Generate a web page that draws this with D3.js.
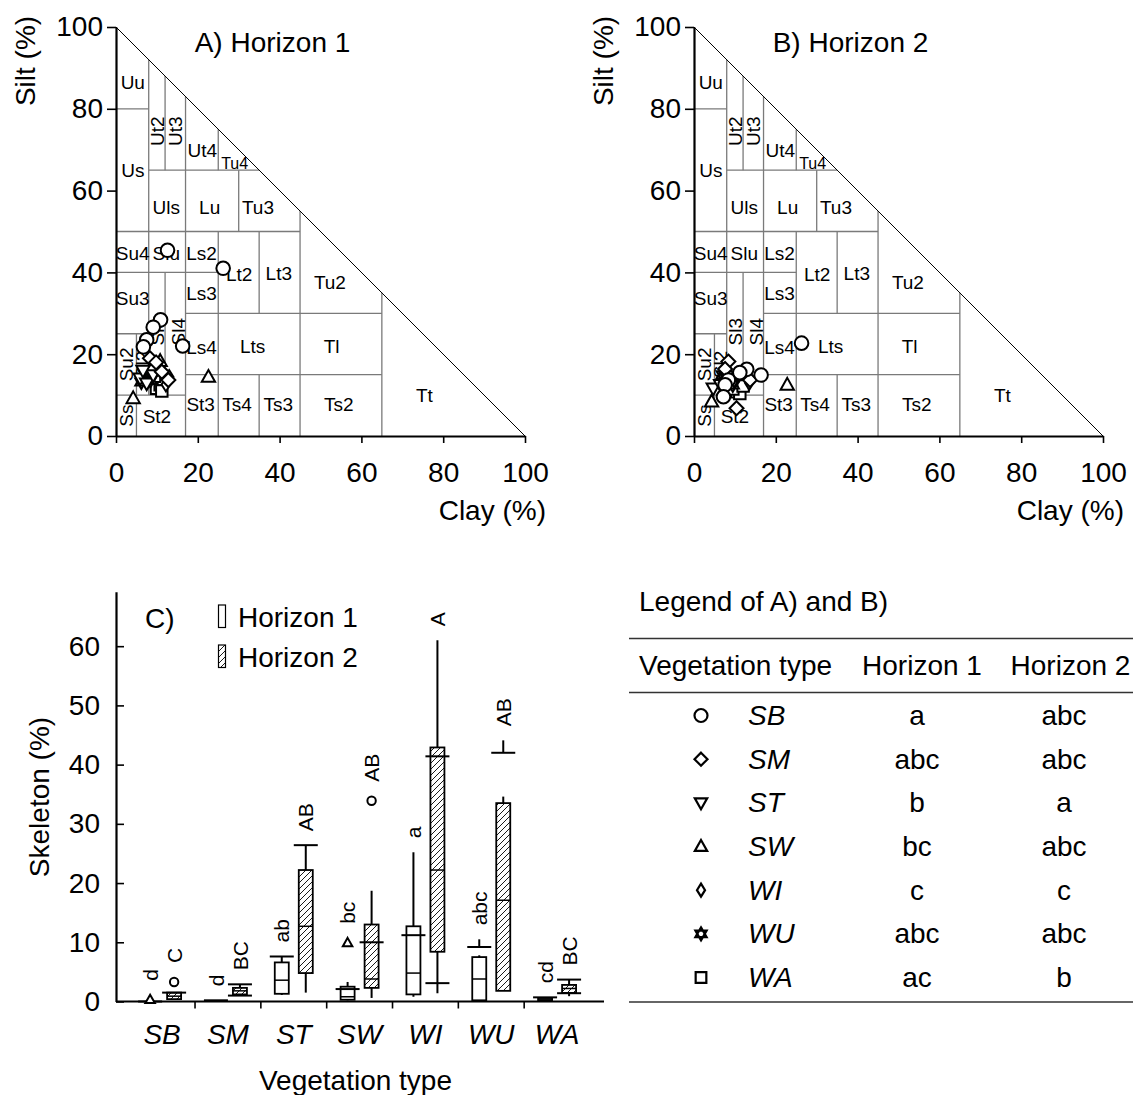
<!DOCTYPE html>
<html>
<head>
<meta charset="utf-8">
<script src="https://cdn.jsdelivr.net/npm/d3@7"></script>
<style>
body { margin: 0; background: #fff; }
text { font-family: "Liberation Sans", Arial, sans-serif; fill: #000; }
</style>
</head>
<body>
<script>
// ---- data ----
var categories = ["SB", "SM", "ST", "SW", "WI", "WU", "WA"];
var symbolTypes = ["circle", "diamond", "triangleDown", "triangleUp", "narrowDiamond", "hexagram", "square"];
var groupsH1 = ["a", "abc", "b", "bc", "c", "abc", "ac"];
var groupsH2 = ["abc", "abc", "a", "abc", "c", "abc", "b"];

// soil texture points [type, clay %, silt %]
var pointsH1 = [
  ["WA", 9.9, 11.7], ["WA", 10.8, 12.5], ["WA", 11.6, 13.8], ["WA", 9.4, 14.6], ["WA", 11.2, 11.0],
  ["WU", 7.0, 15.2], ["WU", 8.4, 13.6], ["WU", 9.6, 16.2], ["WU", 6.2, 13.2],
  ["WI", 13.0, 14.4], ["WI", 10.2, 16.6], ["WI", 12.2, 12.6],
  ["SW", 22.6, 14.4], ["SW", 4.2, 9.2], ["SW", 10.8, 18.3], ["SW", 9.0, 17.0],
  ["ST", 5.9, 14.1], ["ST", 7.5, 12.9], ["ST", 9.1, 14.9], ["ST", 6.6, 16.0],
  ["SM", 12.8, 13.7], ["SM", 8.3, 19.0], ["SM", 11.2, 15.7], ["SM", 9.8, 18.0],
  ["SB", 12.6, 45.4], ["SB", 26.2, 41.0], ["SB", 10.9, 28.4], ["SB", 9.1, 26.6],
  ["SB", 7.5, 23.5], ["SB", 6.7, 21.8], ["SB", 16.3, 22.0]
];
var pointsH2 = [
  ["WA", 10.5, 10.8], ["WA", 11.2, 10.4], ["WA", 9.5, 11.5], ["WA", 12.0, 12.2],
  ["WU", 8.0, 14.2], ["WU", 9.5, 12.5], ["WU", 7.0, 15.0],
  ["WI", 13.5, 13.0], ["WI", 11.0, 15.0], ["WI", 9.8, 13.6],
  ["SW", 22.8, 12.5], ["SW", 4.3, 8.4], ["SW", 9.0, 14.5],
  ["ST", 4.7, 11.7], ["ST", 6.5, 12.5], ["ST", 8.2, 14.0],
  ["SM", 8.4, 18.2], ["SM", 10.4, 6.8], ["SM", 13.7, 13.7], ["SM", 7.6, 16.4],
  ["SB", 26.3, 22.7], ["SB", 16.4, 14.9], ["SB", 12.9, 16.3], ["SB", 11.2, 15.5],
  ["SB", 8.4, 13.7], ["SB", 7.6, 12.5], ["SB", 7.2, 9.6]
];

// texture class boundaries: horizontal [silt, clayFrom, clayTo], vertical [clay, siltFrom, siltTo]
var hBounds = [[80, 0, 8], [65, 8, 35], [50, 0, 45], [40, 0, 25], [30, 17, 65], [25, 0, 8], [15, 17, 65], [10, 0, 17]];
var vBounds = [[5, 0, 25], [8, 10, 92], [12, 10, 40], [12, 65, 88], [17, 0, 83], [25, 0, 50], [25, 65, 75],
               [30, 50, 65], [35, 0, 15], [35, 30, 50], [45, 0, 55], [65, 0, 35]];
// [label, clay, silt, rotated, small]
var classLabels = [
  ["Uu", 4.1, 86.5], ["Us", 4.1, 65.1], ["Ut2", 10, 74.5, 1], ["Ut3", 14.4, 74.5, 1], ["Ut4", 21.1, 70],
  ["Tu4", 29, 66.8, 0, 1], ["Uls", 12.3, 56], ["Lu", 22.9, 56], ["Tu3", 34.7, 56], ["Su4", 4.1, 44.8],
  ["Slu", 12.3, 44.8], ["Ls2", 20.9, 44.8], ["Lt2", 30.1, 39.5], ["Lt3", 39.8, 39.7], ["Tu2", 52.3, 37.6],
  ["Su3", 4.1, 33.6], ["Ls3", 20.9, 34.9], ["Sl3", 10.1, 25.5, 1], ["Sl4", 15.1, 25.5, 1], ["Ls4", 20.9, 21.8],
  ["Lts", 33.4, 22], ["Tl", 52.7, 22], ["Su2", 2.5, 17.5, 1], ["Sl2", 6.5, 17.5, 1], ["Ss", 2.5, 5, 1],
  ["St2", 10, 4.8], ["St3", 20.7, 7.9], ["Ts4", 29.6, 7.9], ["Ts3", 39.7, 7.9], ["Ts2", 54.5, 7.9], ["Tt", 75.4, 10]
];
var triTicks = [0, 20, 40, 60, 80, 100];

// skeleton box plots (%)
var h1Low    = [0,   0.2, 1.1, 0.2, 0.8,  0.2, 0.1];
var h1Q1     = [0,   0.2, 1.3, 0.3, 1.2,  0.2, 0.2];
var h1Median = [0,   0.2, 3.6, 0.8, 4.8,  3.8, 0.4];
var h1Q3     = [0,   0.2, 6.6, 2.5, 12.7, 7.5, 0.6];
var h1High   = [0,   0.2, 7.6, 3.3, 25.2, 7.8, 0.7];
var h1Marks  = [[0], [0.2], [7.6], [2.1], [11.2], [9.2], [0.7]];
var h1Stubs  = [null, null, null, null, null, [9.2, 10.5], null];
var h1Outliers = [[0.3], [], [], [9.9], [], [], []];
var h1Letters = ["d", "d", "ab", "bc", "a", "abc", "cd"];

var h2Low    = [0.3, 1.0, 1.5,  0.6,  1.4,  1.8,  0.9];
var h2Q1     = [0.4, 1.2, 4.8,  2.3,  8.4,  1.8,  1.45];
var h2Median = [0.9, 1.8, 12.7, 3.8,  22.2, 17.1, 2.2];
var h2Q3     = [1.5, 2.3, 22.2, 13.0, 42.9, 33.5, 2.8];
var h2High   = [1.5, 2.9, 26.4, 18.7, 61.0, 34.6, 3.7];
var h2Marks  = [[1.5], [2.9, 1.0], [26.4], [10.0], [41.4, 3.1], [42.0], [3.7, 1.4]];
var h2Stubs  = [null, null, null, null, null, [42.0, 44.1], null];
var h2Outliers = [[3.3], [], [], [33.9], [], [], []];
var h2Letters = ["C", "BC", "AB", "AB", "A", "AB", "BC"];
var skeletonTicks = [0, 10, 20, 30, 40, 50, 60];

// ---- helpers ----
function symbolPath(type, r) {
  switch (type) {
    case "circle": return "M" + r + ",0A" + r + "," + r + " 0 1,1 " + (-r) + ",0A" + r + "," + r + " 0 1,1 " + r + ",0Z";
    case "square": var s = r * 0.82; return "M" + (-s) + "," + (-s) + "H" + s + "V" + s + "H" + (-s) + "Z";
    case "diamond": return "M0," + (-r) + "L" + r + ",0L0," + r + "L" + (-r) + ",0Z";
    case "narrowDiamond": return "M0," + (-r) + "L" + (r * 0.62) + ",0L0," + r + "L" + (-r * 0.62) + ",0Z";
    case "triangleUp": return "M0," + (-r) + "L" + (r * 0.95) + "," + (r * 0.68) + "L" + (-r * 0.95) + "," + (r * 0.68) + "Z";
    case "triangleDown": return "M0," + r + "L" + (r * 0.95) + "," + (-r * 0.68) + "L" + (-r * 0.95) + "," + (-r * 0.68) + "Z";
    case "hexagram":
      var a = r * 0.866, b = r / 2;
      return "M0," + (-r) + "L" + a + "," + b + "L" + (-a) + "," + b + "Z" +
             "M0," + r + "L" + a + "," + (-b) + "L" + (-a) + "," + (-b) + "Z";
  }
}
function symbolOf(cat) { return symbolTypes[categories.indexOf(cat)]; }

var svg = d3.select("body").append("svg")
  .attr("width", 1133).attr("height", 1095);

var defs = svg.append("defs");
defs.append("pattern")
  .attr("id", "hatch").attr("patternUnits", "userSpaceOnUse")
  .attr("width", 6).attr("height", 6)
  .append("path")
  .attr("d", "M-1,1 l2,-2 M0,6 l6,-6 M5,7 l2,-2")
  .attr("stroke", "#000").attr("stroke-width", 0.9);

// ---- texture triangles ----
function drawTriangle(x0, title, points) {
  var x = d3.scaleLinear().domain([0, 100]).range([x0, x0 + 409]);
  var y = d3.scaleLinear().domain([0, 100]).range([436, 27]);
  var g = svg.append("g");

  g.selectAll("line.h").data(hBounds).enter().append("line")
    .attr("x1", function(d) { return x(d[1]); }).attr("x2", function(d) { return x(d[2]); })
    .attr("y1", function(d) { return y(d[0]); }).attr("y2", function(d) { return y(d[0]); })
    .attr("stroke", "#7a7a7a").attr("stroke-width", 1.3);
  g.selectAll("line.v").data(vBounds).enter().append("line")
    .attr("x1", function(d) { return x(d[0]); }).attr("x2", function(d) { return x(d[0]); })
    .attr("y1", function(d) { return y(d[1]); }).attr("y2", function(d) { return y(d[2]); })
    .attr("stroke", "#7a7a7a").attr("stroke-width", 1.3);
  g.append("line")
    .attr("x1", x(0)).attr("y1", y(100)).attr("x2", x(100)).attr("y2", y(0))
    .attr("stroke", "#000").attr("stroke-width", 1);

  g.selectAll("text.cls").data(classLabels).enter().append("text")
    .attr("transform", function(d) {
      return "translate(" + x(d[1]) + "," + y(d[2]) + ")" + (d[3] ? " rotate(-90)" : "");
    })
    .attr("text-anchor", "middle").attr("dy", "0.36em")
    .style("font-size", function(d) { return d[4] ? "16px" : "19px"; })
    .text(function(d) { return d[0]; });

  var ya = g.append("g").attr("transform", "translate(" + x(0) + ",0)")
    .call(d3.axisLeft(y).tickValues(triTicks).tickSize(9).tickSizeOuter(0).tickPadding(4));
  var xa = g.append("g").attr("transform", "translate(0," + y(0) + ")")
    .call(d3.axisBottom(x).tickValues(triTicks).tickSize(7).tickSizeOuter(0).tickPadding(19));
  [ya, xa].forEach(function(a) {
    a.select(".domain").attr("stroke-width", 2.2);
    a.selectAll(".tick line").attr("stroke-width", 1.6);
    a.selectAll("text").style("font-size", "28px").style("font-family", '"Liberation Sans", Arial, sans-serif');
  });

  g.append("text").attr("x", x0 + 156.5).attr("y", 52)
    .attr("text-anchor", "middle").style("font-size", "28px").text(title);
  g.append("text").attr("x", x0 + 430).attr("y", 520)
    .attr("text-anchor", "end").style("font-size", "28px").text("Clay (%)");
  g.append("text").attr("transform", "translate(" + (x0 - 91) + ",61) rotate(-90)")
    .attr("text-anchor", "middle").attr("dy", "0.35em").style("font-size", "28px").text("Silt (%)");

  g.selectAll("path.pt").data(points).enter().append("path")
    .attr("transform", function(d) { return "translate(" + x(d[1]) + "," + y(d[2]) + ")"; })
    .attr("d", function(d) { return symbolPath(symbolOf(d[0]), d[0] === "SB" ? 6.8 : 7); })
    .attr("fill", "#fff").attr("stroke", "#000").attr("stroke-width", 2);
}
drawTriangle(116, "A) Horizon 1", pointsH1);
drawTriangle(694, "B) Horizon 2", pointsH2);

// ---- skeleton box plot ----
var band = d3.scaleBand().domain(categories).range([129.2, 590]);
var sy = d3.scaleLinear().domain([0, 69.2]).range([1001.5, 591.7]);
var gc = svg.append("g");

var yax = gc.append("g").attr("transform", "translate(116,0)")
  .call(d3.axisLeft(sy).tickValues(skeletonTicks).tickSize(-8).tickSizeOuter(0).tickPadding(16));
yax.select(".domain").attr("stroke-width", 2.2);
yax.selectAll(".tick line").attr("stroke-width", 1.6);
yax.selectAll("text").style("font-size", "28px").style("font-family", '"Liberation Sans", Arial, sans-serif');

gc.append("line").attr("x1", 116).attr("x2", 604).attr("y1", sy(0)).attr("y2", sy(0))
  .attr("stroke", "#000").attr("stroke-width", 2.2);
gc.selectAll("line.ctick").data(categories.slice(1)).enter().append("line")
  .attr("x1", function(d) { return band(d); }).attr("x2", function(d) { return band(d); })
  .attr("y1", sy(0)).attr("y2", sy(0) + 7)
  .attr("stroke", "#000").attr("stroke-width", 1.6);
var xax = gc.append("g").attr("transform", "translate(0," + sy(0) + ")")
  .call(d3.axisBottom(band).tickSize(0).tickPadding(23));
xax.select(".domain").remove();
xax.selectAll("text").style("font-size", "28px").style("font-style", "italic")
  .style("font-family", '"Liberation Sans", Arial, sans-serif');

gc.append("text").attr("x", 355.5).attr("y", 1090).attr("text-anchor", "middle")
  .style("font-size", "28px").text("Vegetation type");
gc.append("text").attr("transform", "translate(39,797) rotate(-90)").attr("text-anchor", "middle")
  .attr("dy", "0.35em").style("font-size", "28px").text("Skeleton (%)");

function boxData(low, q1, med, q3, high, marks, stubs, outliers, letters) {
  return categories.map(function(c, i) {
    return { cat: c, low: low[i], q1: q1[i], med: med[i], q3: q3[i], high: high[i],
             marks: marks[i], stub: stubs[i], outliers: outliers[i], letter: letters[i] };
  });
}
var boxesH1 = boxData(h1Low, h1Q1, h1Median, h1Q3, h1High, h1Marks, h1Stubs, h1Outliers, h1Letters);
var boxesH2 = boxData(h2Low, h2Q1, h2Median, h2Q3, h2High, h2Marks, h2Stubs, h2Outliers, h2Letters);

function drawBoxes(data, offset, hatched, outlierType) {
  var boxW = 14, capW = 24;
  data.forEach(function(d) {
    var cx = band(d.cat) + band.bandwidth() / 2 + offset;
    var g = gc.append("g");
    g.append("line").attr("x1", cx).attr("x2", cx).attr("y1", sy(d.low)).attr("y2", sy(d.high))
      .attr("stroke", "#000").attr("stroke-width", 2);
    if (d.q3 > d.q1) {
      g.append("rect").attr("x", cx - boxW / 2).attr("width", boxW)
        .attr("y", sy(d.q3)).attr("height", sy(d.q1) - sy(d.q3)).attr("fill", "#fff");
      g.append("rect").attr("x", cx - boxW / 2).attr("width", boxW)
        .attr("y", sy(d.q3)).attr("height", sy(d.q1) - sy(d.q3))
        .attr("fill", hatched ? "url(#hatch)" : "#fff")
        .attr("stroke", "#000").attr("stroke-width", 1.8);
      g.append("line").attr("x1", cx - boxW / 2).attr("x2", cx + boxW / 2)
        .attr("y1", sy(d.med)).attr("y2", sy(d.med)).attr("stroke", "#000").attr("stroke-width", 1.5);
    }
    d.marks.forEach(function(m) {
      g.append("line").attr("x1", cx - capW / 2).attr("x2", cx + capW / 2)
        .attr("y1", sy(m)).attr("y2", sy(m)).attr("stroke", "#000").attr("stroke-width", 2);
    });
    if (d.stub) {
      g.append("line").attr("x1", cx).attr("x2", cx).attr("y1", sy(d.stub[0])).attr("y2", sy(d.stub[1]))
        .attr("stroke", "#000").attr("stroke-width", 2);
    }
    d.outliers.forEach(function(o) {
      g.append("path").attr("transform", "translate(" + cx + "," + sy(o) + ")")
        .attr("d", symbolPath(outlierType, outlierType === "circle" ? 4.2 : 5))
        .attr("fill", "#fff").attr("stroke", "#000").attr("stroke-width", 2);
    });
    var top = Math.max(d.high, d3.max(d.marks), d.stub ? d.stub[1] : 0, d3.max(d.outliers) || 0);
    var extra = (d.outliers.length && d3.max(d.outliers) >= top) ? 5 : 0;
    g.append("text")
      .attr("transform", "translate(" + cx + "," + (sy(top) - extra - 14) + ") rotate(-90)")
      .attr("dy", "0.36em").style("font-size", "21px").text(d.letter);
  });
}
drawBoxes(boxesH1, -12, false, "triangleUp");
drawBoxes(boxesH2, 12, true, "circle");

// legend of C
gc.append("text").attr("x", 145).attr("y", 628).style("font-size", "28px").text("C)");
var legC = [["Horizon 1", false], ["Horizon 2", true]];
legC.forEach(function(l, i) {
  var yy = 605 + i * 40;
  gc.append("rect").attr("x", 218.5).attr("y", yy).attr("width", 7).attr("height", 22.5)
    .attr("fill", l[1] ? "url(#hatch)" : "#fff").attr("stroke", "#000").attr("stroke-width", 1.2);
  gc.append("text").attr("x", 238).attr("y", yy + 22).style("font-size", "28px").text(l[0]);
});

// ---- legend table for A) and B) ----
var gt = svg.append("g");
gt.append("text").attr("x", 639).attr("y", 611).style("font-size", "28px").text("Legend of A) and B)");
[638.5, 692.5, 1002].forEach(function(yy) {
  gt.append("line").attr("x1", 629).attr("x2", 1133).attr("y1", yy).attr("y2", yy)
    .attr("stroke", "#333").attr("stroke-width", 1.5);
});
gt.append("text").attr("x", 639).attr("y", 675).style("font-size", "28px").text("Vegetation type");
gt.append("text").attr("x", 922).attr("y", 675).attr("text-anchor", "middle").style("font-size", "28px").text("Horizon 1");
gt.append("text").attr("x", 1070.5).attr("y", 675).attr("text-anchor", "middle").style("font-size", "28px").text("Horizon 2");

var rowY = d3.scaleLinear().domain([0, 6]).range([725, 987]);
var rows = gt.selectAll("g.row").data(categories).enter().append("g")
  .attr("transform", function(d, i) { return "translate(0," + rowY(i) + ")"; });
rows.append("path").attr("transform", "translate(701,-9.5)")
  .attr("d", function(d, i) { return symbolPath(symbolTypes[i], 6.5); })
  .attr("fill", "#fff").attr("stroke", "#000").attr("stroke-width", 2.2);
rows.append("text").attr("x", 748).style("font-size", "28px").style("font-style", "italic")
  .text(function(d) { return d; });
rows.append("text").attr("x", 917).attr("text-anchor", "middle").style("font-size", "28px")
  .text(function(d, i) { return groupsH1[i]; });
rows.append("text").attr("x", 1064).attr("text-anchor", "middle").style("font-size", "28px")
  .text(function(d, i) { return groupsH2[i]; });
</script>
</body>
</html>
